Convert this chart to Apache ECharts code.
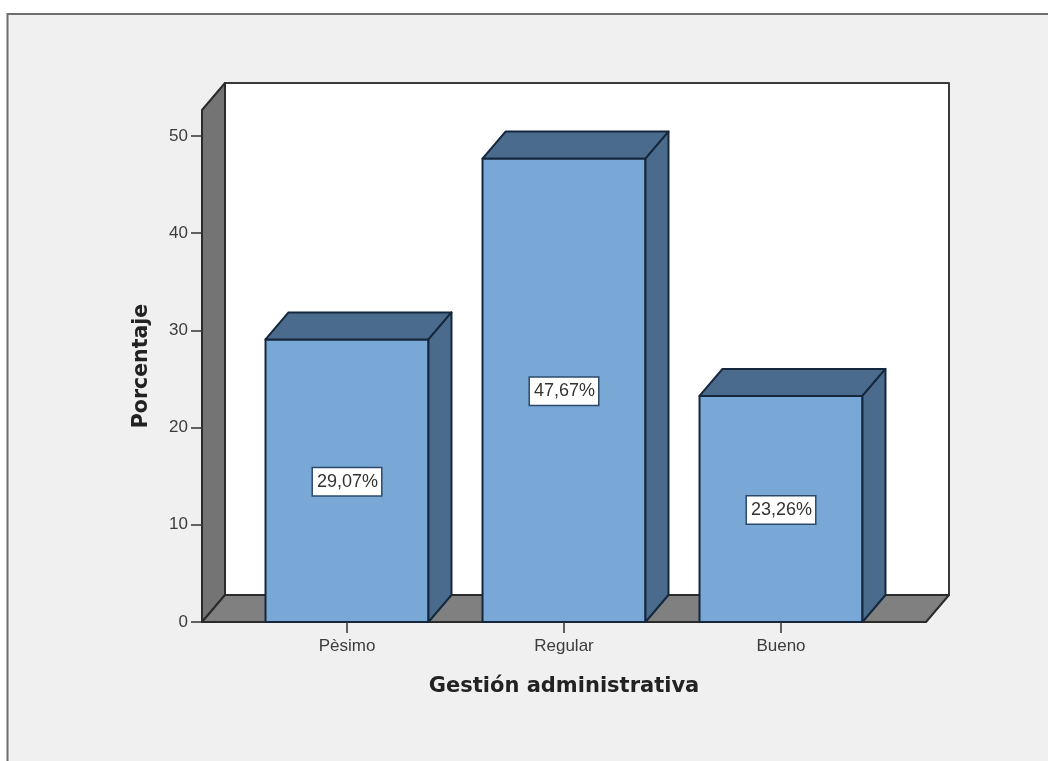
<!DOCTYPE html>
<html>
<head>
<meta charset="utf-8">
<style>html,body{margin:0;padding:0;background:#fff}#c{width:1048px;height:761px}</style>
<script src="https://cdn.jsdelivr.net/npm/echarts@6/dist/echarts.min.js"></script>
</head>
<body>
<div id="c"></div>
<script>
const categories = ['Pèsimo', 'Regular', 'Bueno'];
const percentages = [29.07, 47.67, 23.26];
const valueLabels = ['29,07%', '47,67%', '23,26%'];
const yTicks = [0, 10, 20, 30, 40, 50];
const yMax = 52.67;

const depthX = 23, depthY = 27, sideExtra = 36.5;
const edge = '#14273c', wallEdge = '#2b2b2b';
const font = '"Liberation Sans", Arial, sans-serif';

function poly(points, fill, stroke) {
  return { type: 'polygon', shape: { points }, style: { fill, stroke, lineWidth: 2, lineJoin: 'round' } };
}

function renderFrame(params, api) {
  const y0 = api.coord([0, 0])[1];
  const yt = api.coord([0, yMax])[1];
  const band = api.size([1, 0])[0];
  const l = api.coord([0, 0])[0] - band / 2 - sideExtra;
  const r = api.coord([2, 0])[0] + band / 2 + sideExtra;
  return { type: 'group', children: [
    poly([[l + depthX, yt - depthY], [r + depthX, yt - depthY], [r + depthX, y0 - depthY], [l + depthX, y0 - depthY]], '#ffffff', '#3a3a3a'),
    poly([[l, y0], [l + depthX, y0 - depthY], [l + depthX, yt - depthY], [l, yt]], '#747474', wallEdge),
    poly([[l, y0], [r, y0], [r + depthX, y0 - depthY], [l + depthX, y0 - depthY]], '#808080', wallEdge)
  ] };
}

function renderBar(params, api) {
  const cx = api.coord([api.value(0), 0])[0];
  const y0 = api.coord([0, 0])[1];
  const v = api.value(1);
  const yv = api.coord([0, v])[1];
  const w = api.size([1, 0])[0] * 0.751;
  const a = cx - w / 2, b = cx + w / 2;
  const mid = api.coord([0, v / 2])[1];
  return { type: 'group', children: [
    poly([[a, yv], [b, yv], [b, y0], [a, y0]], '#7aa8d6', edge),
    poly([[a, yv], [a + depthX, yv - depthY], [b + depthX, yv - depthY], [b, yv]], '#4b6b8d', edge),
    poly([[b, yv], [b + depthX, yv - depthY], [b + depthX, y0 - depthY], [b, y0]], '#4b6b8d', edge),
    { type: 'text', x: cx, y: mid + 1, style: {
      text: valueLabels[params.dataIndex], font: '18px ' + font, fill: '#333333',
      align: 'center', verticalAlign: 'middle', backgroundColor: '#ffffff',
      borderColor: '#2b4a6b', borderWidth: 1.5, padding: [5, 3, 4, 4]
    } }
  ] };
}

const chart = echarts.init(document.getElementById('c'), null, { renderer: 'canvas', width: 1048, height: 761 });
chart.setOption({
  animation: false,
  backgroundColor: '#ffffff',
  graphic: [{
    type: 'rect', z: -10, shape: { x: 7.5, y: 14, width: 1060, height: 767 },
    style: { fill: '#f0f0f0', stroke: '#6e6e6e', lineWidth: 2 }
  }],
  grid: { left: 238.5, top: 110, width: 651, height: 512 },
  xAxis: {
    type: 'category', data: categories, z: 6,
    axisLine: { show: true, lineStyle: { color: 'transparent' } },
    axisTick: { show: true, alignWithLabel: true, length: 11, lineStyle: { color: '#333', width: 1.5 } },
    axisLabel: { color: '#3c3c3c', fontFamily: font, fontSize: 17, margin: 16 },
    name: 'Gestión administrativa', nameLocation: 'middle', nameGap: 54,
    nameTextStyle: { color: '#222', fontFamily: '"DejaVu Sans"', fontWeight: 'bold', fontSize: 21 }
  },
  yAxis: {
    type: 'value', min: 0, max: yMax, offset: sideExtra, z: 6,
    axisLine: { show: false },
    splitLine: { show: false },
    axisTick: { show: true, length: 11, customValues: yTicks, lineStyle: { color: '#333', width: 1.5 } },
    axisLabel: { color: '#3c3c3c', fontFamily: font, fontSize: 17, margin: 14, customValues: yTicks, padding: [5, 0, 0, 0] },
    name: 'Porcentaje', nameLocation: 'middle', nameGap: 50, nameRotate: 90,
    nameTextStyle: { color: '#222', fontFamily: '"DejaVu Sans"', fontWeight: 'bold', fontSize: 20.5 }
  },
  series: [
    { type: 'custom', z: 1, renderItem: renderFrame, data: [[0, 0]], encode: { x: 0, y: 1 }, silent: true },
    { type: 'custom', z: 2, renderItem: renderBar,
      data: percentages.map((v, i) => [i, v]), encode: { x: 0, y: 1 }, silent: true }
  ]
});
</script>
</body>
</html>
